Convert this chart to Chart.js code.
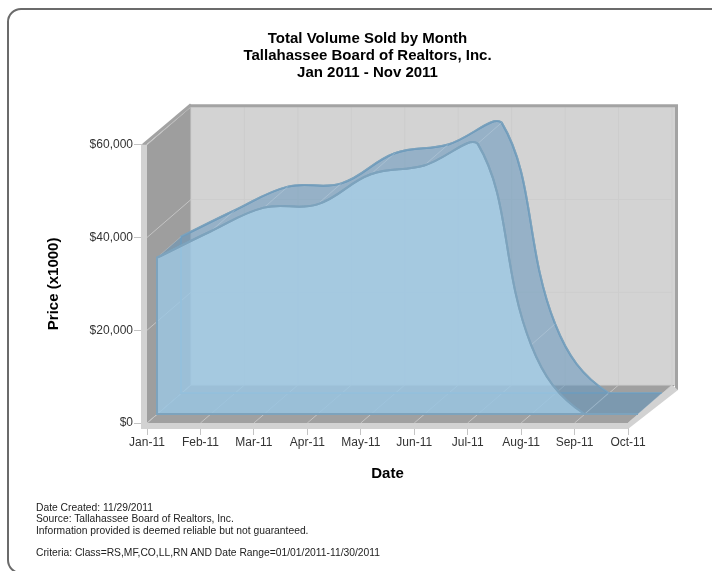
<!DOCTYPE html>
<html>
<head>
<meta charset="utf-8">
<title>Total Volume Sold by Month</title>
<script src="https://cdn.jsdelivr.net/npm/chart.js@4/dist/chart.umd.min.js"></script>
<style>
    html, body { margin: 0; padding: 0; width: 712px; height: 571px; overflow: hidden; background: #fff; }
    #card { position: absolute; left: 7px; top: 8px; width: 800px; height: 566px; border: 2px solid #6b6b6b; border-radius: 14px; box-sizing: border-box; }
    #grafico { position: absolute; left: 0; top: 0; }
    #notas { position: absolute; left: 36px; top: 502px; font: 10.3px/11.3px "Liberation Sans", sans-serif; color: #222; white-space: pre; }
</style>
</head>
<body>
<div id="card"></div>
<canvas id="grafico" width="712" height="571"></canvas>
<div id="notas">Date Created: 11/29/2011
Source: Tallahassee Board of Realtors, Inc.
Information provided is deemed reliable but not guaranteed.

Criteria: Class=RS,MF,CO,LL,RN AND Date Range=01/01/2011-11/30/2011</div>
<script>
const meses = ['Jan-11', 'Feb-11', 'Mar-11', 'Apr-11', 'May-11', 'Jun-11', 'Jul-11', 'Aug-11', 'Sep-11', 'Oct-11'];
const volumen = [33700, 39350, 44500, 45200, 51700, 53600, 58300, 14900, 0, 0];
const titulo = ['Total Volume Sold by Month', 'Tallahassee Board of Realtors, Inc.', 'Jan 2011 - Nov 2011'];
const nivelesY = [0, 20000, 40000, 60000];

// profundidad de la caja y del area, en pixeles
const FONDO = { x: 44, y: -38 };
const AREA_FRENTE = { x: 10, y: -9 };
const AREA_ATRAS = { x: 34, y: -30 };

const RELLENO = 'rgba(155,199,227,0.8)';
const RELLENO_ATRAS = 'rgba(150,190,220,0.1)';
const BANDA = 'rgba(100,150,188,0.52)';
const BORDE = '#7da3bd';

function poligono(ctx, puntos, color) {
    ctx.beginPath();
    puntos.forEach((p, i) => i ? ctx.lineTo(p[0], p[1]) : ctx.moveTo(p[0], p[1]));
    ctx.closePath();
    ctx.fillStyle = color;
    ctx.fill();
}

function linea(ctx, x1, y1, x2, y2, color, ancho) {
    ctx.beginPath();
    ctx.moveTo(x1, y1);
    ctx.lineTo(x2, y2);
    ctx.strokeStyle = color;
    ctx.lineWidth = ancho || 1;
    ctx.stroke();
}

function dibujarCaja(chart) {
    const ctx = chart.ctx;
    const sx = chart.scales.x, sy = chart.scales.y;
    const izq = sx.getPixelForValue(0), der = sx.getPixelForValue(meses.length - 1);
    const arriba = sy.getPixelForValue(60000), abajo = sy.getPixelForValue(0);
    const dx = FONDO.x, dy = FONDO.y;

    ctx.save();
    // pared de fondo, pared lateral y piso
    poligono(ctx, [[izq + dx, arriba + dy], [der + dx + 3, arriba + dy], [der + dx + 3, abajo + dy], [izq + dx, abajo + dy]], '#d3d3d3');
    poligono(ctx, [[izq, arriba], [izq + dx, arriba + dy], [izq + dx, abajo + dy], [izq, abajo]], '#9e9e9e');
    poligono(ctx, [[izq, abajo], [der, abajo], [der + dx, abajo + dy], [izq + dx, abajo + dy]], '#a0a0a0');
    poligono(ctx, [[der + dx - 7, abajo + dy], [der + dx + 3, abajo + dy], [der + dx - 4, abajo + dy + 7], [der + dx - 7, abajo + dy + 7]], '#a0a0a0');

    // rejilla
    nivelesY.forEach(v => {
        const y = sy.getPixelForValue(v);
        linea(ctx, izq + dx, y + dy, der + dx, y + dy, '#cdcdcd');
        linea(ctx, izq, y, izq + dx, y + dy, '#c4c4c4');
    });
    meses.forEach((m, i) => {
        const x = sx.getPixelForValue(i);
        linea(ctx, x + dx, arriba + dy, x + dx, abajo + dy, '#cdcdcd');
        linea(ctx, x, abajo, x + dx, abajo + dy, '#c4c4c4');
    });

    // cantos de la caja
    linea(ctx, izq - 4, arriba + 0.5, izq + dx, arriba + dy - 2, '#a3a3a3', 3);
    linea(ctx, izq + dx - 1, arriba + dy - 1, der + dx + 6, arriba + dy - 1, '#a3a3a3', 3);
    poligono(ctx, [[der + dx + 3, arriba + dy], [der + dx + 6, arriba + dy], [der + dx + 6, abajo + dy + 5], [der + dx + 3, abajo + dy + 5]], '#a3a3a3');
    poligono(ctx, [[izq - 6, arriba], [izq, arriba], [izq, abajo + 6], [izq - 6, abajo + 6]], '#d2d2d2');
    poligono(ctx, [[izq - 6, abajo], [der, abajo], [der, abajo + 6], [izq - 6, abajo + 6]], '#d2d2d2');
    poligono(ctx, [[der, abajo], [der + dx, abajo + dy], [der + dx + 6, abajo + dy + 5], [der, abajo + 6]], '#d2d2d2');
    ctx.restore();
}

function trazarArea(ctx, meta, abajo) {
    const pts = meta.data;
    ctx.beginPath();
    meta.dataset.path(ctx);
    ctx.lineTo(pts[pts.length - 1].x, abajo);
    ctx.lineTo(pts[0].x, abajo);
    ctx.closePath();
}

// superficie superior del area, entre la curva de atras y la de adelante
function dibujarBanda(chart, meta) {
    const ctx = chart.ctx;
    const pts = meta.data;
    const abajo = chart.scales.y.getPixelForValue(0);
    const a = AREA_FRENTE, b = AREA_ATRAS;
    const ultimo = pts.length - 1;

    ctx.save();
    ctx.beginPath();
    ctx.moveTo(pts[0].x + a.x, pts[0].y + a.y);
    for (let i = 1; i <= ultimo; i++) {
        const p = pts[i - 1], t = pts[i];
        ctx.bezierCurveTo(p.cp2x + a.x, p.cp2y + a.y, t.cp1x + a.x, t.cp1y + a.y, t.x + a.x, t.y + a.y);
    }
    ctx.lineTo(pts[ultimo].x + b.x, pts[ultimo].y + b.y);
    for (let i = ultimo; i > 0; i--) {
        const p = pts[i - 1], t = pts[i];
        ctx.bezierCurveTo(t.cp1x + b.x, t.cp1y + b.y, p.cp2x + b.x, p.cp2y + b.y, p.x + b.x, p.y + b.y);
    }
    ctx.closePath();
    ctx.fillStyle = BANDA;
    ctx.fill();

    // piso del area y lineas de cada mes
    poligono(ctx, [
        [pts[0].x + a.x, abajo + a.y], [pts[ultimo].x + a.x, abajo + a.y],
        [pts[ultimo].x + b.x, abajo + b.y], [pts[0].x + b.x, abajo + b.y]
    ], 'rgba(110,150,180,0.25)');
    pts.forEach(p => {
        linea(ctx, p.x + a.x, p.y + a.y, p.x + b.x, p.y + b.y, 'rgba(225,235,242,0.25)');
    });
    ctx.restore();
}

const areaTresD = {
    id: 'areaTresD',
    afterLayout(chart) {
        // el titulo del original va centrado un poco mas a la derecha
        chart.titleBlock.left += 31;
        chart.titleBlock.right += 31;
    },
    beforeDatasetsDraw(chart) {
        dibujarCaja(chart);
    },
    beforeDatasetDraw(chart, args) {
        const ctx = chart.ctx;
        const frente = args.index === 0;
        const abajo = chart.scales.y.getPixelForValue(0);
        if (frente) dibujarBanda(chart, args.meta);
        const d = frente ? AREA_FRENTE : AREA_ATRAS;
        ctx.save();
        ctx.translate(d.x, d.y);
        trazarArea(ctx, args.meta, abajo);
        ctx.fillStyle = frente ? RELLENO : RELLENO_ATRAS;
        ctx.fill();
        ctx.strokeStyle = BORDE;
        ctx.lineWidth = 2;
        ctx.stroke();
    },
    afterDatasetDraw(chart) {
        chart.ctx.restore();
    }
};

new Chart(document.getElementById('grafico'), {
    type: 'line',
    data: {
        labels: meses,
        datasets: [
            { label: 'Total Volume', data: volumen, borderColor: BORDE, borderWidth: 2, fill: false, tension: 0.4, pointRadius: 0, clip: false },
            { label: 'Total Volume (depth)', data: volumen, borderColor: BORDE, borderWidth: 2, fill: false, tension: 0.4, pointRadius: 0, clip: false }
        ]
    },
    plugins: [areaTresD],
    options: {
        responsive: false,
        animation: false,
        layout: { autoPadding: false, padding: { left: 45, right: 84, top: 0, bottom: 86 } },
        plugins: {
            legend: { display: false },
            tooltip: { enabled: false },
            title: {
                display: true,
                text: titulo,
                color: '#000',
                font: { family: '"Liberation Sans"', size: 15, weight: 'bold', lineHeight: 1.15 },
                padding: { top: 30, bottom: 63 }
            }
        },
        scales: {
            x: {
                afterFit(s) { s.height = 62; },
                border: { display: false },
                grid: { drawOnChartArea: false, tickLength: 12, color: '#c4c4c4' },
                ticks: { color: '#333', font: { family: '"Liberation Sans"', size: 12 }, padding: 0, maxRotation: 0, autoSkip: false },
                title: { display: true, text: 'Date', color: '#000', font: { family: '"Liberation Sans"', size: 15, weight: 'bold' }, padding: { top: 0, bottom: 2 } }
            },
            y: {
                min: 0,
                max: 60000,
                afterFit(s) { s.width = 102; },
                border: { display: false },
                grid: { drawOnChartArea: false, tickLength: 13, color: '#c4c4c4' },
                ticks: {
                    stepSize: 20000,
                    padding: 1,
                    color: '#333',
                    font: { family: '"Liberation Sans"', size: 12 },
                    callback: v => '$' + v.toLocaleString('en-US')
                },
                title: { display: true, text: 'Price (x1000)', color: '#000', font: { family: '"Liberation Sans"', size: 15, weight: 'bold' }, padding: 0 }
            }
        }
    }
});
</script>
</body>
</html>
